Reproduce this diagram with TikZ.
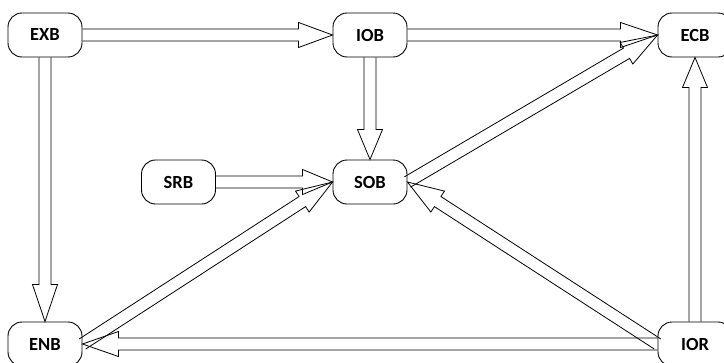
\documentclass[tikz,border=0pt]{standalone}
\usepackage{fontspec}
\setmainfont{Carlito}
\usetikzlibrary{calc}
\tikzset{
  boxnode/.style={draw=black, line width=0.9pt, rounded corners=14pt, minimum width=74pt, minimum height=44pt, inner sep=0pt, font=\fontsize{18.5}{22}\selectfont\bfseries},
  harrowline/.style={draw=black, line width=0.8pt, line join=miter}
}
\newcommand\harrow[3][34]{%
  \path ($(#3)!#1pt!(#2)$) coordinate (hb);
  \draw[harrowline] ($(#2)!6pt!90:(#3)$) -- ($(hb)!6pt!90:(#3)$) -- ($(hb)!12.5pt!90:(#3)$) -- (#3) -- ($(hb)!12.5pt!-90:(#3)$) -- ($(hb)!6pt!-90:(#3)$) -- ($(#2)!6pt!-90:(#3)$);
}
\begin{document}
\begin{tikzpicture}[x=1pt, y=-1pt]
\useasboundingbox (0,0) rectangle (724,362);
\node[boxnode] (exb) at (45,35) {EXB};
\node[boxnode] (iob) at (370,35) {IOB};
\node[boxnode] (ecb) at (695,35) {ECB};
\node[boxnode] (srb) at (178.5,182) {SRB};
\node[boxnode] (sob) at (370,182) {SOB};
\node[boxnode] (enb) at (45,344) {ENB};
\node[boxnode] (ior) at (695,344) {IOR};
\harrow{exb.east}{iob.west}
\harrow[37]{iob.east}{ecb.west}
\harrow[37]{exb.south}{enb.north}
\harrow[30]{iob.south}{sob.north}
\harrow[30]{srb.east}{sob.west}
\harrow[36]{enb.east}{sob.west}
\harrow[36]{sob.east}{ecb.west}
\harrow[36]{ior.west}{sob.east}
\harrow[36]{ior.west}{enb.east}
\harrow[30]{ior.north}{ecb.south}
\end{tikzpicture}
\end{document}
